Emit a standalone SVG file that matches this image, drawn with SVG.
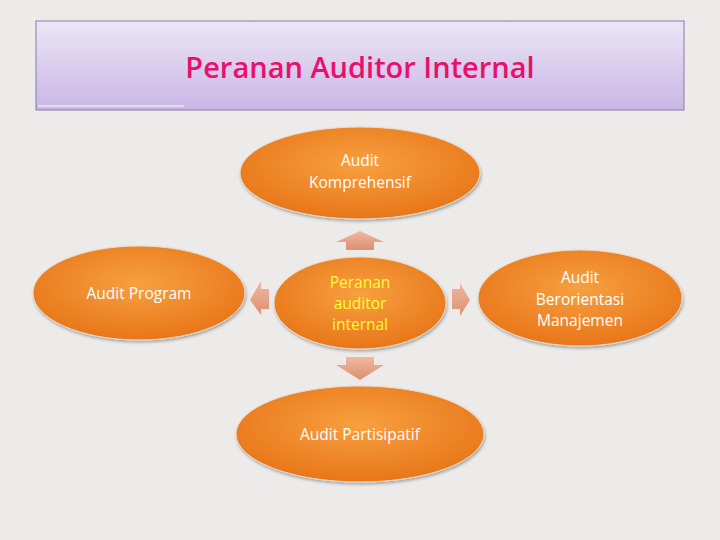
<svg xmlns="http://www.w3.org/2000/svg" width="720" height="540" viewBox="0 0 720 540">
<defs>
<linearGradient id="tg" x1="0" y1="0" x2="0" y2="1"><stop offset="0" stop-color="#ece6f6"/><stop offset="1" stop-color="#c9b6e6"/></linearGradient>
<radialGradient id="og" cx="0.5" cy="0.4" r="0.6"><stop offset="0" stop-color="#f7a040"/><stop offset="1" stop-color="#e8761a"/></radialGradient>
<linearGradient id="ag" x1="0" y1="0" x2="0" y2="1"><stop offset="0" stop-color="#f0b8a0"/><stop offset="1" stop-color="#dc9070"/></linearGradient>
<filter id="sh"><feDropShadow dx="1" dy="2" stdDeviation="1.5" flood-opacity="0.3"/></filter>
</defs>
<style>
.n{fill:url(#og);stroke:#e9d9c8;stroke-width:1;filter:url(#sh)}
.t{font-family:"Open Sans","Liberation Sans",sans-serif;font-size:15.5px;fill:#fff;text-anchor:middle}
.a{fill:url(#ag)}
</style>
<rect width="720" height="540" fill="#ecebe9"/>
<g id="title">
<rect x="36" y="21" width="648" height="89" fill="url(#tg)" stroke="#8a7aa8" stroke-width="1"/>
<line x1="38" y1="106" x2="184" y2="106" stroke="#fff" stroke-width="1"/>
<text x="360" y="78" font-family="'Open Sans','Liberation Sans',sans-serif" font-size="29" font-weight="600" fill="#e8106a" text-anchor="middle">Peranan Auditor Internal</text>
</g>
<g id="connectors">
<path class="a" d="M346 250 V242 H336 L360 231 L384 242 H374 V250 Z"/>
<path class="a" d="M346 357 V365 H336 L360 380 L384 365 H374 V357 Z"/>
<path class="a" d="M269 289 H261 V281 L250 300 L261 315 V309 H269 Z"/>
<path class="a" d="M452 289 H460 V283 L470 300 L460 316 V309 H452 Z"/>
</g>
<g id="top"><ellipse class="n" cx="360" cy="173" rx="120" ry="46"/><text class="t" x="360" y="166">Audit</text><text class="t" x="360" y="188">Komprehensif</text></g>
<g id="left"><ellipse class="n" cx="139" cy="293" rx="106" ry="47"/><text class="t" x="139" y="299">Audit Program</text></g>
<g id="center"><ellipse class="n" cx="360" cy="303" rx="86" ry="46"/><text class="t" x="360" y="288" style="fill:#ffff33">Peranan</text><text class="t" x="360" y="309" style="fill:#ffff33">auditor</text><text class="t" x="360" y="330" style="fill:#ffff33">internal</text></g>
<g id="right"><ellipse class="n" cx="580" cy="298" rx="102" ry="48"/><text class="t" x="580" y="283">Audit</text><text class="t" x="580" y="305">Berorientasi</text><text class="t" x="580" y="326">Manajemen</text></g>
<g id="bottom"><ellipse class="n" cx="360" cy="434" rx="124" ry="48"/><text class="t" x="360" y="440">Audit Partisipatif</text></g>
</svg>
